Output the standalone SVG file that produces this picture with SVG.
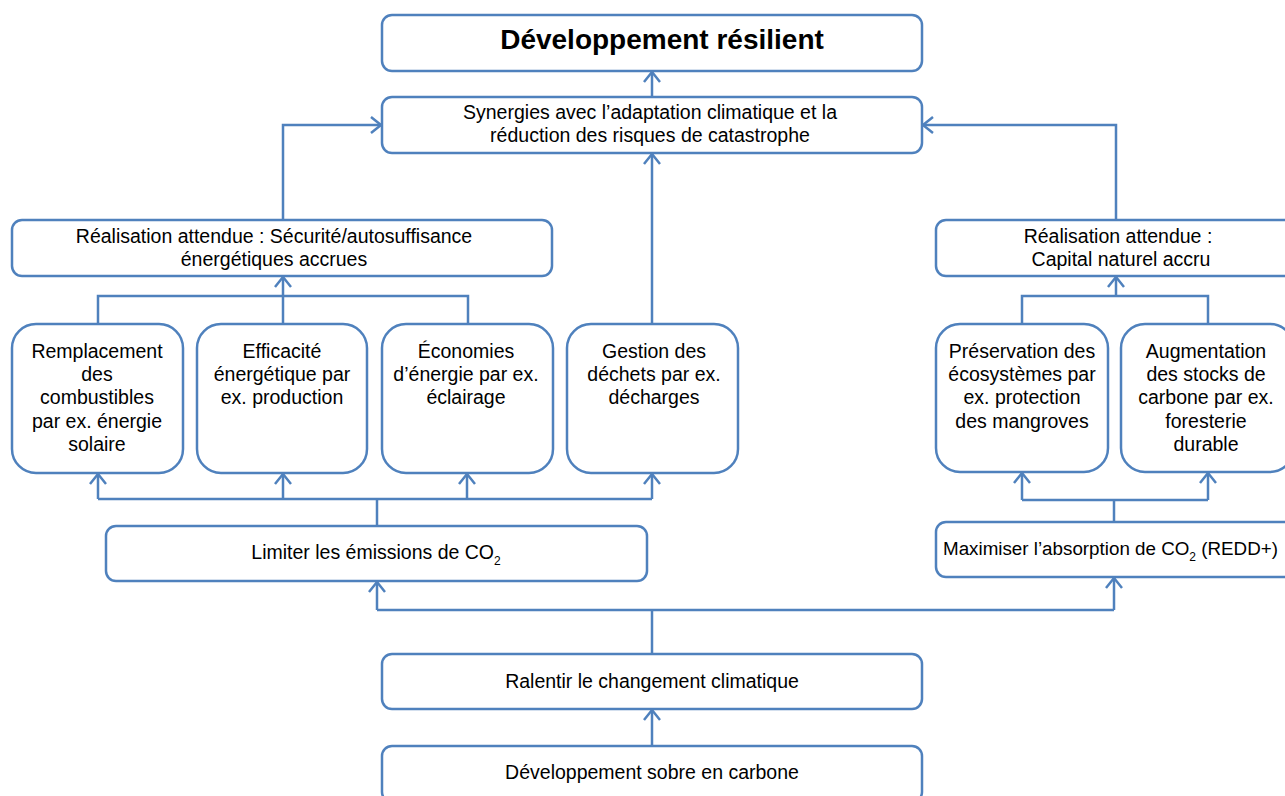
<svg xmlns="http://www.w3.org/2000/svg" width="1285" height="796" viewBox="0 0 1285 796">
<defs>
<style>
.box{fill:#fff;stroke:#4F81BD;stroke-width:2.5}
.c{fill:none;stroke:#4F81BD;stroke-width:2.5}
text{font-family:"Liberation Sans",Arial,sans-serif;font-size:19.5px;fill:#000;text-anchor:middle}
.title{font-size:28px;font-weight:bold}
.sub{font-size:12px}
</style>
<marker id="ah" markerUnits="userSpaceOnUse" markerWidth="20" markerHeight="20" viewBox="-12 -10 14 20" refX="0" refY="0" orient="auto">
<path d="M-10,-8 L0,0 L-10,8" fill="none" stroke="#4F81BD" stroke-width="2.5"/>
</marker>
</defs>
<rect width="1285" height="796" fill="#fff"/>
<g id="connectors">
<path class="c" d="M652,97 V72" marker-end="url(#ah)"/>
<path class="c" d="M283,220 V125 H381" marker-end="url(#ah)"/>
<path class="c" d="M1116,220 V125 H923" marker-end="url(#ah)"/>
<path class="c" d="M652,324 V154" marker-end="url(#ah)"/>
<path class="c" d="M98,324 V296 H468 V324"/>
<path class="c" d="M283,324 V277" marker-end="url(#ah)"/>
<path class="c" d="M1022,324 V296 H1208 V324"/>
<path class="c" d="M1116,296 V277" marker-end="url(#ah)"/>
<path class="c" d="M98,499 H652"/>
<path class="c" d="M98,499 V474" marker-end="url(#ah)"/>
<path class="c" d="M283,499 V474" marker-end="url(#ah)"/>
<path class="c" d="M467,499 V474" marker-end="url(#ah)"/>
<path class="c" d="M652,499 V474" marker-end="url(#ah)"/>
<path class="c" d="M377,526 V499"/>
<path class="c" d="M1022,500 H1208"/>
<path class="c" d="M1022,500 V473" marker-end="url(#ah)"/>
<path class="c" d="M1208,500 V473" marker-end="url(#ah)"/>
<path class="c" d="M1114,522 V500"/>
<path class="c" d="M377,610 H1114"/>
<path class="c" d="M377,610 V582" marker-end="url(#ah)"/>
<path class="c" d="M1114,610 V578" marker-end="url(#ah)"/>
<path class="c" d="M652,654 V610"/>
<path class="c" d="M652,746 V710" marker-end="url(#ah)"/>
</g>
<g id="n-resilient">
<rect class="box" x="382" y="15" width="540" height="56" rx="10"/>
<text class="title" x="662" y="49">Développement résilient</text>
</g>
<g id="n-synergies">
<rect class="box" x="382" y="97" width="540" height="56" rx="10"/>
<text x="650" y="119">Synergies avec l’adaptation climatique et la</text>
<text x="650" y="142">réduction des risques de catastrophe</text>
</g>
<g id="n-real-energie">
<rect class="box" x="12" y="220" width="540" height="56" rx="10"/>
<text x="274" y="243">Réalisation attendue : Sécurité/autosuffisance</text>
<text x="274" y="266">énergétiques accrues</text>
</g>
<g id="n-real-capital">
<rect class="box" x="936" y="220" width="362" height="56" rx="10"/>
<text x="1118" y="243">Réalisation attendue :</text>
<text x="1121" y="266">Capital naturel accru</text>
</g>
<g id="n-remplacement">
<rect class="box" x="12" y="324" width="171" height="149" rx="24"/>
<text x="97" y="358">Remplacement</text>
<text x="97" y="381">des</text>
<text x="97" y="404">combustibles</text>
<text x="97" y="428">par ex. énergie</text>
<text x="97" y="451">solaire</text>
</g>
<g id="n-efficacite">
<rect class="box" x="197" y="324" width="170" height="149" rx="24"/>
<text x="282" y="358">Efficacité</text>
<text x="282" y="381">énergétique par</text>
<text x="282" y="404">ex. production</text>
</g>
<g id="n-economies">
<rect class="box" x="382" y="324" width="171" height="149" rx="24"/>
<text x="466" y="358">Économies</text>
<text x="466" y="381">d’énergie par ex.</text>
<text x="466" y="404">éclairage</text>
</g>
<g id="n-dechets">
<rect class="box" x="567" y="324" width="171" height="149" rx="24"/>
<text x="654" y="358">Gestion des</text>
<text x="654" y="381">déchets par ex.</text>
<text x="654" y="404">décharges</text>
</g>
<g id="n-preservation">
<rect class="box" x="936" y="324" width="172" height="148" rx="24"/>
<text x="1022" y="358">Préservation des</text>
<text x="1022" y="381">écosystèmes par</text>
<text x="1022" y="404">ex. protection</text>
<text x="1022" y="428">des mangroves</text>
</g>
<g id="n-augmentation">
<rect class="box" x="1121" y="324" width="173" height="148" rx="24"/>
<text x="1206" y="358">Augmentation</text>
<text x="1206" y="381">des stocks de</text>
<text x="1206" y="404">carbone par ex.</text>
<text x="1206" y="428">foresterie</text>
<text x="1206" y="451">durable</text>
</g>
<g id="n-limiter">
<rect class="box" x="106" y="526" width="541" height="55" rx="10"/>
<text x="376" y="559">Limiter les émissions de CO<tspan class="sub" dy="6">2</tspan></text>
</g>
<g id="n-maximiser">
<rect class="box" x="936" y="522" width="362" height="55" rx="10"/>
<text x="943" y="555" style="text-anchor:start;font-size:18.8px">Maximiser l’absorption de CO<tspan class="sub" dy="6">2</tspan><tspan dy="-6"> (REDD+)</tspan></text>
</g>
<g id="n-ralentir">
<rect class="box" x="382" y="654" width="540" height="55" rx="10"/>
<text x="652" y="688">Ralentir le changement climatique</text>
</g>
<g id="n-sobre">
<rect class="box" x="382" y="746" width="540" height="56" rx="10"/>
<text x="652" y="779">Développement sobre en carbone</text>
</g>
</svg>
